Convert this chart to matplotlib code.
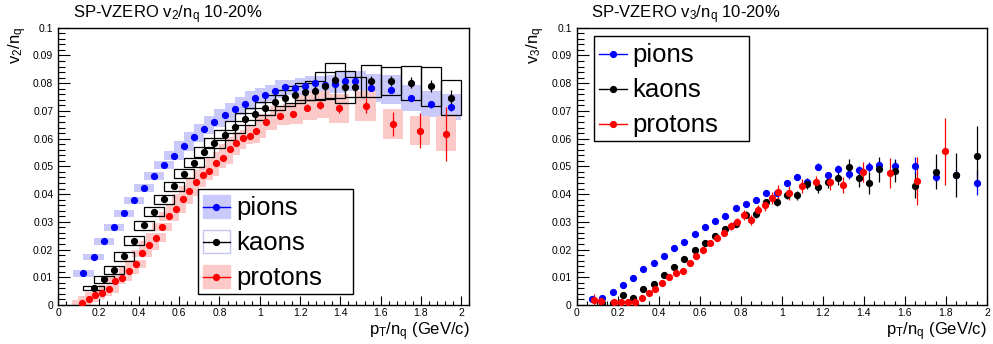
import matplotlib
matplotlib.use("Agg")
import matplotlib.pyplot as plt
from matplotlib.patches import Rectangle
from matplotlib.lines import Line2D
from matplotlib.ticker import MultipleLocator, FuncFormatter
import numpy as np

W, H = 993, 344
plt.rcParams['font.family'] = ['Liberation Sans', 'DejaVu Sans']
plt.rcParams['mathtext.fontset'] = 'custom'
plt.rcParams['mathtext.rm'] = 'Liberation Sans'
plt.rcParams['mathtext.it'] = 'Liberation Sans:italic'
plt.rcParams['mathtext.bf'] = 'Liberation Sans:bold'

# ---------------- v2/nq ----------------
pi_x = [0.125, 0.175, 0.225, 0.275, 0.325, 0.375, 0.425, 0.475, 0.525, 0.575,
        0.625, 0.675, 0.725, 0.775, 0.825, 0.875, 0.925, 0.975, 1.025, 1.075,
        1.125, 1.175, 1.225, 1.275, 1.325, 1.375, 1.425, 1.475,
        1.55, 1.65, 1.75, 1.85, 1.95]
pi_v2 = [0.0114, 0.0173, 0.0230, 0.0280, 0.0331, 0.0377, 0.0422, 0.0465, 0.0504, 0.0538,
         0.0573, 0.0606, 0.0635, 0.0661, 0.0685, 0.0706, 0.0726, 0.0748, 0.0758, 0.0770,
         0.0785, 0.0784, 0.0791, 0.0799, 0.0795, 0.0798, 0.0807, 0.0809,
         0.0782, 0.0776, 0.0747, 0.0724, 0.0714]
pi_v2_stat = [0.0002, 0.0002, 0.0002, 0.0002, 0.0002, 0.0002, 0.0002, 0.0002, 0.0002, 0.0002,
              0.0002, 0.0002, 0.0003, 0.0003, 0.0003, 0.0003, 0.0003, 0.0003, 0.0004, 0.0004,
              0.0004, 0.0005, 0.0005, 0.0005, 0.0006, 0.0006, 0.0007, 0.0007,
              0.0008, 0.0008, 0.0010, 0.0012, 0.0015]
pi_v2_sys = [0.0012, 0.0012, 0.0012, 0.0012, 0.0012, 0.0013, 0.0013, 0.0014, 0.0015, 0.0016,
             0.0017, 0.0018, 0.0019, 0.0020, 0.0021, 0.0022, 0.0023, 0.0024, 0.0024, 0.0025,
             0.0025, 0.0025, 0.0026, 0.0026, 0.0030, 0.0032, 0.0034, 0.0035,
             0.0050, 0.0052, 0.0048, 0.0046, 0.0048]

k_x = [0.175, 0.225, 0.275, 0.325, 0.375, 0.425, 0.475, 0.525, 0.575, 0.625,
       0.675, 0.725, 0.775, 0.825, 0.875, 0.925, 0.975, 1.025, 1.075, 1.125,
       1.175, 1.225, 1.275, 1.325, 1.375, 1.425, 1.475,
       1.55, 1.65, 1.75, 1.85, 1.95]
k_v2 = [0.0061, 0.0093, 0.0127, 0.0175, 0.0232, 0.0287, 0.0337, 0.0382, 0.0428, 0.0474,
        0.0513, 0.0552, 0.0583, 0.0613, 0.0642, 0.0671, 0.0690, 0.0709, 0.0731, 0.0746,
        0.0758, 0.0769, 0.0773, 0.0791, 0.0810, 0.0787, 0.0785,
        0.0809, 0.0807, 0.0801, 0.0789, 0.0748]
k_v2_stat = [0.0003, 0.0003, 0.0003, 0.0003, 0.0003, 0.0003, 0.0004, 0.0004, 0.0004, 0.0005,
             0.0005, 0.0005, 0.0006, 0.0006, 0.0007, 0.0008, 0.0008, 0.0009, 0.0010, 0.0010,
             0.0011, 0.0011, 0.0012, 0.0012, 0.0013, 0.0015, 0.0015,
             0.0017, 0.0018, 0.0020, 0.0022, 0.0028]
k_v2_sys = [0.0008, 0.0013, 0.0015, 0.0016, 0.0016, 0.0016, 0.0016, 0.0016, 0.0016, 0.0017,
            0.0017, 0.0018, 0.0018, 0.0019, 0.0020, 0.0021, 0.0022, 0.0024, 0.0026, 0.0029,
            0.0031, 0.0031, 0.0033, 0.0049, 0.0062, 0.0058, 0.0036,
            0.0058, 0.0051, 0.0060, 0.0071, 0.0064]

p_x = [0.1167, 0.1500, 0.1833, 0.2167, 0.2500, 0.2833, 0.3167, 0.3500, 0.3833, 0.4167,
       0.4500, 0.4833, 0.5167, 0.5500, 0.5833, 0.6167, 0.6500, 0.6833, 0.7167, 0.7500,
       0.7833, 0.8167, 0.8500, 0.8833, 0.9167, 0.9500, 0.9833,
       1.0333, 1.1000, 1.1667, 1.2333, 1.3000, 1.3933, 1.5250, 1.6600, 1.7933, 1.9250]
p_v2 = [0.0006, 0.0022, 0.0035, 0.0044, 0.0058, 0.0087, 0.0099, 0.0124, 0.0148, 0.0186,
        0.0215, 0.0243, 0.0282, 0.0320, 0.0347, 0.0382, 0.0411, 0.0442, 0.0468, 0.0484,
        0.0513, 0.0530, 0.0561, 0.0584, 0.0602, 0.0608, 0.0626,
        0.0659, 0.0683, 0.0689, 0.0712, 0.0722, 0.0709, 0.0719, 0.0653, 0.0629, 0.0617]
p_v2_stat = [0.0002, 0.0002, 0.0002, 0.0002, 0.0002, 0.0002, 0.0002, 0.0002, 0.0002, 0.0002,
             0.0003, 0.0003, 0.0003, 0.0003, 0.0003, 0.0003, 0.0004, 0.0004, 0.0004, 0.0005,
             0.0005, 0.0005, 0.0006, 0.0006, 0.0007, 0.0008, 0.0009,
             0.0010, 0.0010, 0.0011, 0.0012, 0.0015, 0.0015, 0.0027, 0.0043, 0.0064, 0.0097]
p_v2_sys = [0.0012, 0.0012, 0.0012, 0.0012, 0.0013, 0.0013, 0.0013, 0.0014, 0.0014, 0.0014,
            0.0015, 0.0015, 0.0015, 0.0016, 0.0016, 0.0017, 0.0017, 0.0018, 0.0018, 0.0019,
            0.0019, 0.0020, 0.0020, 0.0021, 0.0022, 0.0023, 0.0024,
            0.0028, 0.0034, 0.0036, 0.0045, 0.0048, 0.0052, 0.0054, 0.0053, 0.0052, 0.0063]

# ---------------- v3/nq ----------------
pi3_x = [0.075, 0.125, 0.175, 0.225, 0.275, 0.325, 0.375, 0.425, 0.475, 0.525,
         0.575, 0.625, 0.675, 0.725, 0.775, 0.825, 0.875, 0.925, 0.975, 1.025,
         1.075, 1.125, 1.175, 1.225, 1.275, 1.325, 1.375, 1.425, 1.475,
         1.55, 1.65, 1.75, 1.85, 1.95]
pi_v3 = [0.0022, 0.0027, 0.0048, 0.0073, 0.0097, 0.0129, 0.0150, 0.0176, 0.0204, 0.0227,
         0.0255, 0.0280, 0.0303, 0.0322, 0.0349, 0.0364, 0.0379, 0.0405, 0.0405, 0.0441,
         0.0463, 0.0444, 0.0499, 0.0468, 0.0490, 0.0471, 0.0487, 0.0498, 0.0505,
         0.0503, 0.0503, 0.0463, 0.0470, 0.0441]
pi_v3_stat = [0.0005, 0.0005, 0.0005, 0.0005, 0.0005, 0.0005, 0.0005, 0.0005, 0.0005, 0.0006,
              0.0006, 0.0006, 0.0006, 0.0006, 0.0007, 0.0007, 0.0007, 0.0008, 0.0008, 0.0009,
              0.0009, 0.0010, 0.0012, 0.0013, 0.0014, 0.0015, 0.0016, 0.0017, 0.0018,
              0.0025, 0.0030, 0.0020, 0.0020, 0.0045]

k3_x = [0.125, 0.175, 0.225, 0.275, 0.325, 0.375, 0.425, 0.475, 0.525, 0.575,
        0.625, 0.675, 0.725, 0.775, 0.825, 0.875, 0.925, 0.975, 1.025, 1.075,
        1.125, 1.175, 1.225, 1.275, 1.325, 1.375, 1.425, 1.475,
        1.55, 1.65, 1.75, 1.85, 1.95]
k_v3 = [0.0008, 0.0007, 0.0035, 0.0024, 0.0057, 0.0076, 0.0107, 0.0137, 0.0167, 0.0197,
        0.0222, 0.0249, 0.0274, 0.0291, 0.0326, 0.0327, 0.0370, 0.0371, 0.0398, 0.0395,
        0.0438, 0.0424, 0.0444, 0.0457, 0.0498, 0.0457, 0.0439, 0.0489,
        0.0484, 0.0430, 0.0480, 0.0469, 0.0537]
k_v3_stat = [0.0008, 0.0008, 0.0008, 0.0008, 0.0008, 0.0008, 0.0008, 0.0009, 0.0009, 0.0009,
             0.0010, 0.0010, 0.0011, 0.0011, 0.0012, 0.0012, 0.0013, 0.0014, 0.0015, 0.0017,
             0.0019, 0.0021, 0.0023, 0.0025, 0.0027, 0.0030, 0.0040, 0.0046,
             0.0040, 0.0045, 0.0063, 0.0080, 0.0110]

p3_x = [0.0833, 0.1167, 0.1833, 0.2167, 0.2500, 0.2833, 0.3167, 0.3500, 0.3833, 0.4167,
        0.4500, 0.4833, 0.5167, 0.5500, 0.5833, 0.6167, 0.6500, 0.6833, 0.7167, 0.7500,
        0.7833, 0.8167, 0.8500, 0.8833, 0.9167, 0.9500, 0.9833,
        1.0333, 1.1000, 1.1667, 1.2333, 1.3000, 1.3967, 1.5267, 1.6600, 1.7950]
p_v3 = [0.0018, 0.0014, 0.0010, 0.0011, 0.0012, 0.0011, 0.0024, 0.0043, 0.0059, 0.0078,
        0.0102, 0.0115, 0.0121, 0.0153, 0.0175, 0.0197, 0.0224, 0.0240, 0.0261, 0.0285,
        0.0300, 0.0325, 0.0305, 0.0343, 0.0360, 0.0387, 0.0406,
        0.0404, 0.0430, 0.0442, 0.0444, 0.0433, 0.0481, 0.0476, 0.0446, 0.0554]
p_v3_stat = [0.0020, 0.0012, 0.0007, 0.0007, 0.0007, 0.0007, 0.0007, 0.0007, 0.0007, 0.0007,
             0.0008, 0.0008, 0.0008, 0.0009, 0.0009, 0.0010, 0.0010, 0.0011, 0.0012, 0.0013,
             0.0015, 0.0019, 0.0018, 0.0019, 0.0020, 0.0022, 0.0025,
             0.0025, 0.0025, 0.0025, 0.0028, 0.0030, 0.0036, 0.0054, 0.0087, 0.0120]

species = ['pions', 'kaons', 'protons']
BLUE, BLACK, RED = '#0000ff', '#000000', '#ff0000'
BLUE_FILL, RED_FILL = '#c9c9fb', '#fcc9c9'
SYS_WIDTH = 0.1

fig = plt.figure(figsize=(W / 100, H / 100), dpi=100)


def px_axes(l, t, r, b):
    return fig.add_axes([l / W, 1 - b / H, (r - l) / W, (b - t) / H])


def style_axes(ax, xmax, xminor):
    ax.set_xlim(0, xmax)
    ax.set_ylim(0, 0.1)
    ax.xaxis.set_major_locator(MultipleLocator(0.2))
    ax.xaxis.set_minor_locator(MultipleLocator(xminor))
    ax.yaxis.set_major_locator(MultipleLocator(0.01))
    ax.yaxis.set_minor_locator(MultipleLocator(0.002))
    fmt = FuncFormatter(lambda v, pos: '%g' % round(v, 4))
    ax.xaxis.set_major_formatter(fmt)
    ax.yaxis.set_major_formatter(fmt)
    ax.tick_params(top=False, right=False, direction='in', width=0.8, colors='black',
                   labelsize=7.5, which='both')
    ax.xaxis.set_tick_params(which='major', length=6.5, pad=2.4)
    ax.xaxis.set_tick_params(which='minor', length=3.2)
    ax.yaxis.set_tick_params(which='major', length=8.6, pad=3.6)
    ax.yaxis.set_tick_params(which='minor', length=4.7)
    for s in ax.spines.values():
        s.set_linewidth(1.0)
        s.set_color('black')


def sys_boxes(ax, x, y, s, **kw):
    x = np.asarray(x); y = np.asarray(y); s = np.asarray(s)
    ax.bar(x, 2 * s, bottom=y - s, width=SYS_WIDTH, align='center', **kw)


def points(ax, x, y, e, color):
    ax.errorbar(x, y, yerr=e, fmt='o', ms=4.2, color=color, mec=color, mfc=color,
                elinewidth=0.9, capsize=0, zorder=5)


def fig_text(x, y, s, **kw):
    fig.text(x / W, 1 - y / H, s, **kw)


def draw_legend(l, t, r, b, entries):
    fig.add_artist(Rectangle((l / W, 1 - b / H), (r - l) / W, (b - t) / H,
                             transform=fig.transFigure, fill=False, ec='black', lw=1.0))
    n = len(entries)
    for i, (label, color, fill, edge) in enumerate(entries):
        yc = t + (b - t) * (i + 0.5) / n
        x0, x1 = l + 5, l + 32.3
        if fill is not None:
            fig.add_artist(Rectangle((x0 / W, 1 - (yc + 11.5) / H), (x1 - x0) / W, 23 / H,
                                     transform=fig.transFigure, fc=fill, ec=edge, lw=1.0))
        fig.add_artist(Line2D([x0 / W, x1 / W], [1 - yc / H, 1 - yc / H],
                              transform=fig.transFigure, color=color, lw=1.0))
        fig.add_artist(Line2D([(x0 + x1) / 2 / W], [1 - yc / H], transform=fig.transFigure,
                              marker='o', ms=4.2, color=color, lw=0))
        fig_text(l + 38.3, yc + 8.3, label, fontsize=18.5, va='baseline', ha='left')


# ---------- left panel: v2/nq ----------
ax1 = px_axes(58.3, 27.7, 469.3, 305)
style_axes(ax1, 2.04, 0.04)
sys_boxes(ax1, pi_x, pi_v2, pi_v2_sys, color=BLUE_FILL, lw=0, zorder=1)
sys_boxes(ax1, p_x, p_v2, p_v2_sys, color=RED_FILL, lw=0, zorder=2)
sys_boxes(ax1, k_x, k_v2, k_v2_sys, fill=False, edgecolor='black', lw=0.9, zorder=3)
points(ax1, pi_x, pi_v2, pi_v2_stat, BLUE)
points(ax1, k_x, k_v2, k_v2_stat, BLACK)
points(ax1, p_x, p_v2, p_v2_stat, RED)

fig_text(72.7, 18.3, r'SP-VZERO $\mathregular{v_{2}/n_{q}}$ 10-20%', fontsize=12, va='baseline')
fig_text(17.5, 26.7, r'$\mathregular{v_{2}/n_{q}}$', fontsize=12, rotation=90, ha='center', va='top')
fig_text(469.3, 335, r'$\mathregular{p_{T}/n_{q}}$ (GeV/c)', fontsize=12, ha='right', va='baseline')
draw_legend(197.7, 189.3, 352.7, 294.3,
            [(species[0], BLUE, BLUE_FILL, BLUE_FILL),
             (species[1], BLACK, 'white', '#c4c4f2'),
             (species[2], RED, RED_FILL, RED_FILL)])

# ---------- right panel: v3/nq ----------
ax2 = px_axes(576.7, 27.7, 987, 305)
style_axes(ax2, 2.0, 0.05)
points(ax2, pi3_x, pi_v3, pi_v3_stat, BLUE)
points(ax2, k3_x, k_v3, k_v3_stat, BLACK)
points(ax2, p3_x, p_v3, p_v3_stat, RED)

fig_text(590.7, 18.3, r'SP-VZERO $\mathregular{v_{3}/n_{q}}$ 10-20%', fontsize=12, va='baseline')
fig_text(535.8, 26.7, r'$\mathregular{v_{3}/n_{q}}$', fontsize=12, rotation=90, ha='center', va='top')
fig_text(987, 335, r'$\mathregular{p_{T}/n_{q}}$ (GeV/c)', fontsize=12, ha='right', va='baseline')
draw_legend(594.3, 36, 749.3, 141.3,
            [(species[0], BLUE, None, None),
             (species[1], BLACK, None, None),
             (species[2], RED, None, None)])

fig.savefig('out.png', dpi=100)
